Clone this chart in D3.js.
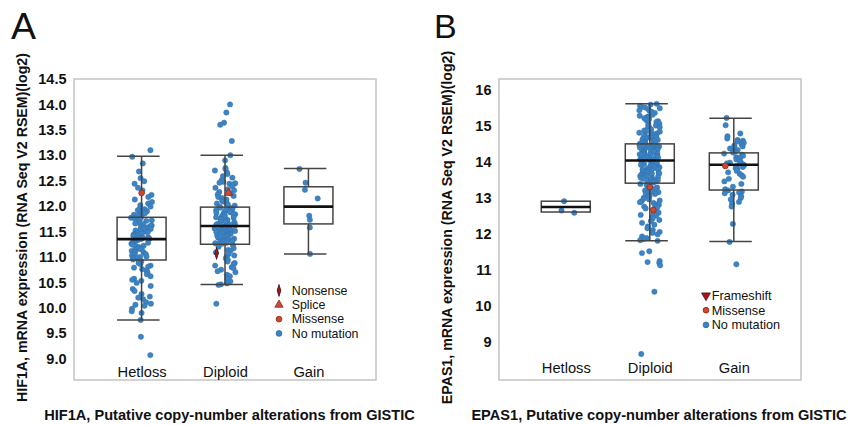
<!DOCTYPE html>
<html>
<head>
<meta charset="utf-8">
<script src="https://cdn.jsdelivr.net/npm/d3@7"></script>
<style>
  body { margin: 0; background: #fff; }
  svg text { font-family: "Liberation Sans", Arial, sans-serif; fill: #111; }
</style>
</head>
<body>
<div id="viz"></div>
<script>
const categories = ["Hetloss", "Diploid", "Gain"];

// HIF1A expression per copy-number group
const hif1aHetloss = [13.10, 12.97, 12.84, 12.68, 12.55, 12.49, 12.44, 12.36, 12.31, 12.22, 12.18, 12.13, 12.08, 12.05, 12.02, 11.99, 11.97, 11.94, 11.92, 11.90, 11.88, 11.86, 11.84, 11.83, 11.81, 11.79,
  11.77, 11.76, 11.74, 11.72, 11.71, 11.69, 11.67, 11.66, 11.64, 11.62, 11.61, 11.59, 11.58, 11.56, 11.55, 11.53, 11.52, 11.50, 11.49, 11.47, 11.46, 11.45, 11.43, 11.42, 11.41, 11.39, 11.38, 11.37, 11.36, 11.35,
  11.34, 11.33, 11.32, 11.30, 11.29, 11.28, 11.26, 11.25, 11.24, 11.22, 11.21, 11.19, 11.18, 11.16, 11.15, 11.13, 11.12, 11.10, 11.09, 11.07, 11.06, 11.04, 11.03, 11.01, 11.00, 10.98, 10.97, 10.95,
  10.93, 10.91, 10.88, 10.86, 10.83, 10.81, 10.79, 10.76, 10.73, 10.70, 10.66, 10.62, 10.57, 10.55, 10.53, 10.49, 10.43, 10.37, 10.33, 10.27, 10.22, 10.20, 10.17, 10.11, 10.08, 10.06, 10.04, 9.98, 9.93, 9.90, 9.76, 9.43, 9.07];
const hif1aDiploid = [14.00, 13.84, 13.64, 13.60, 13.28, 13.00, 12.90,
  12.75, 12.73, 12.70, 12.66, 12.63, 12.59, 12.56, 12.51, 12.48, 12.46, 12.45, 12.44, 12.42, 12.39, 12.36, 12.33, 12.31, 12.28, 12.25, 12.23, 12.20, 12.18, 12.16, 12.13, 12.11, 12.09, 12.07, 12.05, 12.03, 12.01, 11.99,
  11.97, 11.96, 11.95, 11.93, 11.92, 11.91, 11.90, 11.88, 11.87, 11.86, 11.84, 11.83, 11.82, 11.80, 11.79, 11.78, 11.77, 11.75, 11.74, 11.73, 11.72, 11.70, 11.69, 11.68, 11.67, 11.65, 11.64, 11.63, 11.62, 11.61,
  11.60, 11.59, 11.58, 11.57, 11.56, 11.55, 11.54, 11.53, 11.52, 11.51, 11.50, 11.49, 11.48, 11.47, 11.46, 11.45, 11.44, 11.43, 11.42, 11.41, 11.40, 11.38, 11.37, 11.36, 11.35, 11.34, 11.33, 11.32, 11.31, 11.30, 11.29, 11.28, 11.27, 11.26,
  11.23, 11.20, 11.17, 11.14, 11.12, 11.09, 11.06, 11.03, 11.00, 10.97, 10.94, 10.91, 10.88, 10.86, 10.83, 10.80, 10.78, 10.75, 10.72, 10.70, 10.65, 10.62, 10.57, 10.52, 10.48, 10.46, 10.45, 10.08];
const hif1aGain = [12.73, 12.46, 12.32, 12.15, 11.81, 11.73, 11.58, 11.06];

// HIF1A box statistics (Hetloss, Diploid, Gain)
const hif1aLow = [9.76, 10.46, 11.06];
const hif1aQ1 = [10.94, 11.25, 11.65];
const hif1aMedian = [11.35, 11.61, 11.99];
const hif1aQ3 = [11.78, 11.98, 12.38];
const hif1aHigh = [12.98, 13.00, 12.74];

const hif1aMutations = [
  {cat: 0, value: 12.26, type: "Missense"},
  {cat: 1, value: 12.26, type: "Splice"},
  {cat: 1, value: 11.07, type: "Nonsense"}
];

// EPAS1 expression per copy-number group
const epas1Hetloss = [12.90, 12.64, 12.58];
const epas1Diploid = [15.60, 15.58, 15.55, 15.52, 15.50, 15.48, 15.45, 15.42, 15.40, 15.38, 15.35, 15.30, 15.27, 15.25, 15.22, 15.20, 15.18, 15.15, 15.12, 15.10, 15.08, 15.05, 15.02, 15.00, 14.98, 14.95,
  14.92, 14.90, 14.88, 14.86, 14.85, 14.83, 14.80, 14.78, 14.76, 14.75, 14.73, 14.72, 14.70, 14.68, 14.67, 14.65, 14.63, 14.62, 14.60, 14.58, 14.57, 14.55, 14.54, 14.52, 14.51, 14.50,
  14.48, 14.47, 14.46, 14.45, 14.44, 14.43, 14.42, 14.41, 14.40, 14.39, 14.38, 14.37, 14.36, 14.35, 14.34, 14.33, 14.32, 14.31, 14.30, 14.29, 14.28, 14.27, 14.26, 14.25, 14.24, 14.23, 14.22, 14.21, 14.20,
  14.19, 14.18, 14.17, 14.16, 14.15, 14.14, 14.13, 14.12, 14.11, 14.10, 14.09, 14.08, 14.07, 14.06, 14.05, 14.04, 14.03,
  14.02, 14.00, 13.99, 13.97, 13.96, 13.94, 13.93, 13.91, 13.90, 13.88, 13.87, 13.85, 13.84, 13.82, 13.81, 13.79, 13.78, 13.76, 13.75, 13.73, 13.72, 13.70, 13.69, 13.67, 13.66, 13.64, 13.63, 13.61,
  13.60, 13.58, 13.57, 13.55, 13.54, 13.52, 13.51, 13.49, 13.48, 13.46, 13.45, 13.43, 13.42, 13.41, 13.40,
  13.38, 13.35, 13.33, 13.30, 13.28, 13.25, 13.22, 13.20, 13.17, 13.15, 13.12, 13.10, 13.07, 13.05, 13.02, 13.00, 12.97, 12.95, 12.92, 12.90, 12.87, 12.85, 12.82, 12.80, 12.77, 12.75, 12.72,
  12.70, 12.62, 12.58, 12.55, 12.52, 12.50, 12.46, 12.42, 12.38, 12.35, 12.30, 12.25, 12.20, 12.15, 12.10, 12.05, 12.02, 11.98, 11.92, 11.88, 11.85, 11.82, 11.80,
  11.51, 11.46, 11.24, 11.21, 11.19, 11.12, 10.39, 8.66];
const epas1Gain = [15.21, 15.01, 14.78, 14.70, 14.64, 14.60, 14.58, 14.56, 14.52, 14.48, 14.45, 14.42, 14.40, 14.36, 14.32, 14.28, 14.25, 14.22, 14.19, 14.16, 14.12, 14.10, 14.06, 14.03, 14.00, 13.97,
  13.95, 13.92, 13.90, 13.88, 13.85, 13.82, 13.78, 13.74, 13.70, 13.66, 13.62, 13.58, 13.52, 13.45, 13.38, 13.30, 13.23, 13.20, 13.17, 13.14, 13.12, 13.08, 13.04, 12.99, 12.95, 12.88, 12.83, 12.75,
  12.27, 11.77, 11.15];

// EPAS1 box statistics (Hetloss, Diploid, Gain)
const epas1Low = [null, 11.80, 11.78];
const epas1Q1 = [12.60, 13.40, 13.21];
const epas1Median = [12.74, 14.03, 13.91];
const epas1Q3 = [12.90, 14.49, 14.24];
const epas1High = [null, 15.60, 15.20];

const epas1Mutations = [
  {cat: 1, value: 13.29, type: "Missense"},
  {cat: 1, value: 12.66, type: "Missense"},
  {cat: 2, value: 13.88, type: "Missense"}
];

const hif1aTicks = d3.range(9, 14.51, 0.5);
const epas1Ticks = d3.range(9, 16.01, 1);

const width = 859;
const height = 425;

const svg = d3.select("#viz").append("svg")
    .attr("width", width)
    .attr("height", height);

const blue = "#3d84c4";
const jitter = (i, k) => {
    const s = Math.sin((i + 1) * 12.9898 + k * 78.233) * 43758.5453;
    return (s - Math.floor(s) - 0.5) * 21;
};

const markerPath = {
    Nonsense: d3.symbol(d3.symbolDiamond, 22)(),
    Splice: d3.symbol(d3.symbolTriangle, 30)(),
    Missense: d3.symbol(d3.symbolCircle, 26)(),
    Frameshift: d3.symbol(d3.symbolTriangle, 34)(),
    "No mutation": d3.symbol(d3.symbolCircle, 26)()
};
const markerFill = {Nonsense: "#9b1c1c", Splice: "#cc4b3c", Missense: "#d2472c", Frameshift: "#a8141a", "No mutation": blue};
const markerStroke = {Nonsense: "#3a0a0a", Splice: "#7a2a22", Missense: "#8c2a1a", Frameshift: "#5a0a0a", "No mutation": "#2f6aa3"};
const markerTransform = {Nonsense: "scale(0.75,1.35)", Splice: "", Missense: "", Frameshift: "rotate(180)", "No mutation": ""};

function drawPanel(cfg) {
    const x = d3.scaleLinear().domain(cfg.xDomain).range([cfg.left, cfg.right]);
    const y = d3.scaleLinear().domain(cfg.yDomain).range([cfg.bottom, cfg.top]);
    const g = svg.append("g");

    g.append("rect")
        .attr("x", cfg.left).attr("y", cfg.top)
        .attr("width", cfg.right - cfg.left).attr("height", cfg.bottom - cfg.top)
        .attr("fill", "none").attr("stroke", "#c3c3c3").attr("stroke-width", 1.5);

    // y axis labels
    const yAxis = g.append("g")
        .attr("transform", `translate(${cfg.left},0)`)
        .call(d3.axisLeft(y).tickValues(cfg.ticks).tickSize(0).tickPadding(7.5).tickFormat(cfg.tickFormat));
    yAxis.select(".domain").remove();
    yAxis.selectAll("text")
        .style("font-size", cfg.tickSize + "px").style("font-weight", "bold")
        .style("font-family", "'Liberation Sans', Arial, sans-serif").attr("fill", "#111");

    // category labels
    const xAxis = g.append("g")
        .attr("transform", `translate(0,${cfg.catY})`)
        .call(d3.axisBottom(x).tickValues([1, 2, 3]).tickSize(0).tickPadding(0).tickFormat(i => categories[i - 1]));
    xAxis.select(".domain").remove();
    xAxis.selectAll("text")
        .style("font-size", "14.7px")
        .style("font-family", "'Liberation Sans', Arial, sans-serif").attr("fill", "#111");

    // jittered points
    cfg.groups.forEach((vals, c) => {
        g.append("g").selectAll("circle")
            .data(vals)
            .enter()
            .append("circle")
            .attr("cx", (d, i) => x(c + 1) + jitter(i, c + cfg.seed))
            .attr("cy", d => y(d))
            .attr("r", 2.7)
            .attr("fill", blue)
            .attr("stroke", "#2f6aa3")
            .attr("stroke-width", 0.4);
    });

    // boxes
    categories.forEach((cat, c) => {
        const cx = x(c + 1);
        const bx = cx - 24.5;
        const line = (x1, y1, x2, y2, w, col) => g.append("line")
            .attr("x1", x1).attr("y1", y1).attr("x2", x2).attr("y2", y2)
            .attr("stroke", col || "#444").attr("stroke-width", w || 1.5);
        if (cfg.high[c] != null) {
            line(cx, y(cfg.q3[c]), cx, y(cfg.high[c]));
            line(bx, y(cfg.high[c]), cx + 18, y(cfg.high[c]));
        }
        if (cfg.low[c] != null) {
            line(cx, y(cfg.q1[c]), cx, y(cfg.low[c]));
            line(bx, y(cfg.low[c]), cx + 18, y(cfg.low[c]));
        }
        g.append("rect")
            .attr("x", bx).attr("y", y(cfg.q3[c]))
            .attr("width", 49).attr("height", y(cfg.q1[c]) - y(cfg.q3[c]))
            .attr("fill", "none").attr("stroke", "#444").attr("stroke-width", 1.5);
        line(bx, y(cfg.median[c]), bx + 49, y(cfg.median[c]), 2.6, "#111");
    });

    // mutation markers
    g.selectAll("path.mut")
        .data(cfg.mutations)
        .enter()
        .append("path")
        .attr("class", "mut")
        .attr("d", d => markerPath[d.type])
        .attr("transform", (d, i) => `translate(${x(d.cat + 1) + jitter(i + 40, 7)},${y(d.value)}) ${markerTransform[d.type]}`)
        .attr("fill", d => markerFill[d.type])
        .attr("stroke", d => markerStroke[d.type])
        .attr("stroke-width", 0.8);

    // legend
    const leg = g.append("g");
    cfg.legend.forEach((t, i) => {
        const ly = cfg.legendY + i * cfg.legendStep;
        leg.append("path")
            .attr("d", markerPath[t])
            .attr("transform", `translate(${cfg.legendX},${ly}) ${markerTransform[t]}`)
            .attr("fill", markerFill[t])
            .attr("stroke", markerStroke[t])
            .attr("stroke-width", 0.8);
        leg.append("text")
            .attr("x", cfg.legendX + cfg.legendGap)
            .attr("y", ly)
            .attr("dy", "0.35em")
            .style("font-size", cfg.legendFont + "px")
            .text(t);
    });

    // titles
    g.append("text")
        .attr("transform", `translate(${cfg.yTitleX},${(cfg.top + cfg.bottom) / 2 - 2}) rotate(-90)`)
        .attr("text-anchor", "middle")
        .attr("dy", "0.35em")
        .style("font-size", "14.2px").style("font-weight", "bold")
        .text(cfg.yTitle);
    g.append("text")
        .attr("x", cfg.xTitleX).attr("y", 419.5)
        .attr("text-anchor", "middle")
        .style("font-size", "14.6px").style("font-weight", "bold")
        .text(cfg.xTitle);
    g.append("text")
        .attr("x", cfg.letterX).attr("y", cfg.letterY)
        .style("font-size", cfg.letterSize + "px")
        .text(cfg.letter);
}

drawPanel({
    left: 74, right: 376, top: 79, bottom: 380,
    xDomain: [0.19, 3.81], yDomain: [8.58, 14.5],
    ticks: hif1aTicks, tickFormat: d3.format(".1f"), tickSize: 14.5,
    catY: 366.5, seed: 0,
    groups: [hif1aHetloss, hif1aDiploid, hif1aGain],
    low: hif1aLow, q1: hif1aQ1, median: hif1aMedian, q3: hif1aQ3, high: hif1aHigh,
    mutations: hif1aMutations,
    legend: ["Nonsense", "Splice", "Missense", "No mutation"],
    legendX: 279, legendY: 290.5, legendStep: 14.3, legendGap: 12.7, legendFont: 12.4,
    yTitleX: 22, yTitle: "HIF1A, mRNA expression (RNA Seq V2 RSEM)(log2)",
    xTitleX: 229.5, xTitle: "HIF1A, Putative copy-number alterations from GISTIC",
    letter: "A", letterX: 11, letterY: 39, letterSize: 37.5
});

drawPanel({
    left: 499, right: 801, top: 79, bottom: 380,
    xDomain: [0.205, 3.8], yDomain: [7.94, 16.29],
    ticks: epas1Ticks, tickFormat: d3.format("d"), tickSize: 14.5,
    catY: 362.7, seed: 3,
    groups: [epas1Hetloss, epas1Diploid, epas1Gain],
    low: epas1Low, q1: epas1Q1, median: epas1Median, q3: epas1Q3, high: epas1High,
    mutations: epas1Mutations,
    legend: ["Frameshift", "Missense", "No mutation"],
    legendX: 706, legendY: 295.5, legendStep: 14.7, legendGap: 5.7, legendFont: 12.7,
    yTitleX: 447, yTitle: "EPAS1, mRNA expression (RNA Seq V2 RSEM)(log2)",
    xTitleX: 659, xTitle: "EPAS1, Putative copy-number alterations from GISTIC",
    letter: "B", letterX: 434, letterY: 37.5, letterSize: 34
});
</script>
</body>
</html>
